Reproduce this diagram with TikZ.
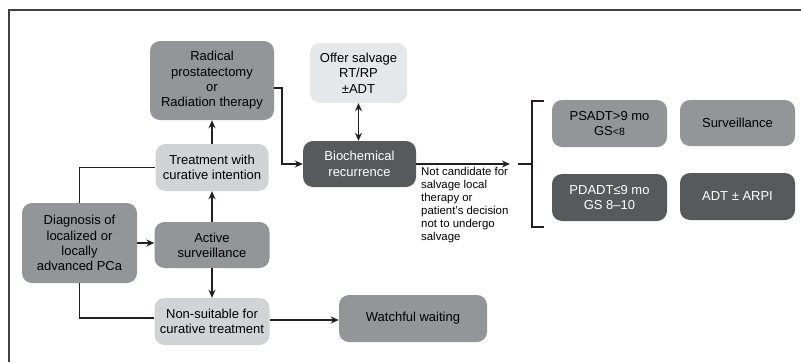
\documentclass[tikz,border=0pt]{standalone}
\usepackage{fontspec}
\setmainfont{Liberation Sans}
\usetikzlibrary{arrows.meta,positioning}
\definecolor{dk}{HTML}{58595B}
\definecolor{md}{HTML}{939598}
\definecolor{lt}{HTML}{D1D3D4}
\definecolor{vl}{HTML}{E6E7E8}
\definecolor{ln}{HTML}{231F20}
\tikzset{
  box/.style={rounded corners=10pt, inner sep=0pt, align=center, font=\fontsize{13}{15.3}\selectfont, text=black},
  dkbox/.style={box, fill=dk, text=white},
  mdbox/.style={box, fill=md},
  ltbox/.style={box, fill=lt},
  vlbox/.style={box, fill=vl},
  conn/.style={draw=ln, line width=1.5pt},
  arr/.style={conn, -{Stealth[length=8pt,width=7pt]}},
  darr/.style={conn, {Stealth[length=8pt,width=7pt]}-{Stealth[length=8pt,width=7pt]}},
}
\begin{document}
\begin{tikzpicture}[x=1pt,y=1pt]
\useasboundingbox (0,0) rectangle (801,-362);
\fill[white] (0,0) rectangle (801,-362);
% frame
\draw[draw=ln!85, line width=1.4pt] (801,-10) -- (9,-10) -- (9,-362);
% nodes
\node[mdbox, minimum width=124pt, minimum height=79pt] (rad) at (212,-80.5) {Radical\\prostatectomy\\or\\Radiation therapy};
\node[vlbox, minimum width=97pt, minimum height=60pt] (offer) at (358.5,-73) {Offer salvage\\RT/RP\\±ADT};
\node[ltbox, minimum width=113pt, minimum height=47pt] (treat) at (212,-167.5) {Treatment with\\curative intention};
\node[dkbox, minimum width=113pt, minimum height=46pt] (bio) at (359.5,-164) {Biochemical\\recurrence};
\node[mdbox, minimum width=115pt, minimum height=80pt] (diag) at (79.5,-243) {Diagnosis of\\localized or\\locally\\advanced PCa};
\node[mdbox, minimum width=115pt, minimum height=46pt] (active) at (212,-245) {Active\\surveillance};
\node[ltbox, minimum width=115pt, minimum height=47pt] (nonsuit) at (212,-321.5) {Non-suitable for\\curative treatment};
\node[mdbox, minimum width=148pt, minimum height=47pt] (watch) at (413,-318.5) {Watchful waiting};
\node[mdbox, minimum width=115pt, minimum height=47pt] (psadt) at (609.5,-123.5) {PSADT>9 mo\\GS{\fontsize{10.5}{12}\selectfont<8}};
\node[mdbox, minimum width=115pt, minimum height=46pt] (surv) at (737.5,-123) {Surveillance};
\node[dkbox, minimum width=115pt, minimum height=47pt] (pdadt) at (609.5,-197.5) {PDADT≤9 mo\\GS 8–10};
\node[dkbox, minimum width=115pt, minimum height=47pt] (adt) at (737.5,-196.5) {ADT ± ARPI};
% label
\node[anchor=north west, align=left, inner sep=0pt, font=\fontsize{11.4}{13}\selectfont] (lbl) at (421,-167) {Not candidate for\\salvage local\\therapy or\\patient's decision\\not to undergo\\salvage};
% bracket coordinates
\coordinate (bt) at (544,-101);
\coordinate (bb) at (544,-227);
\coordinate (bm) at (518,-164);
\coordinate (ae) at (510,-164);
% connectors
\draw[arr] ([yshift=-7.5pt]rad.east) -- ++(8,0) |- (bio.west);
\draw[darr] (offer.south) -- (bio.north -| offer.south);
\draw[arr] (treat.north) -- (rad.south);
\draw[arr] (active.north) -- (treat.south);
\draw[arr] (active.south) -- (nonsuit.north);
\draw[arr] (diag.east) -- (diag.east -| active.west);
\draw[conn] (diag.north) |- (treat.west);
\draw[conn] (diag.south) |- ([yshift=3.5pt]nonsuit.west);
\draw[arr] ([yshift=1.5pt]nonsuit.east) -- ([yshift=1.5pt]nonsuit.east -| watch.west);
\draw[arr] (bio.east) -- (ae);
\draw[conn] (bt) -- (532,-101) -- (532,-227) -- (bb);
\draw[conn] (bm) -- (532,-164);
\end{tikzpicture}
\end{document}
